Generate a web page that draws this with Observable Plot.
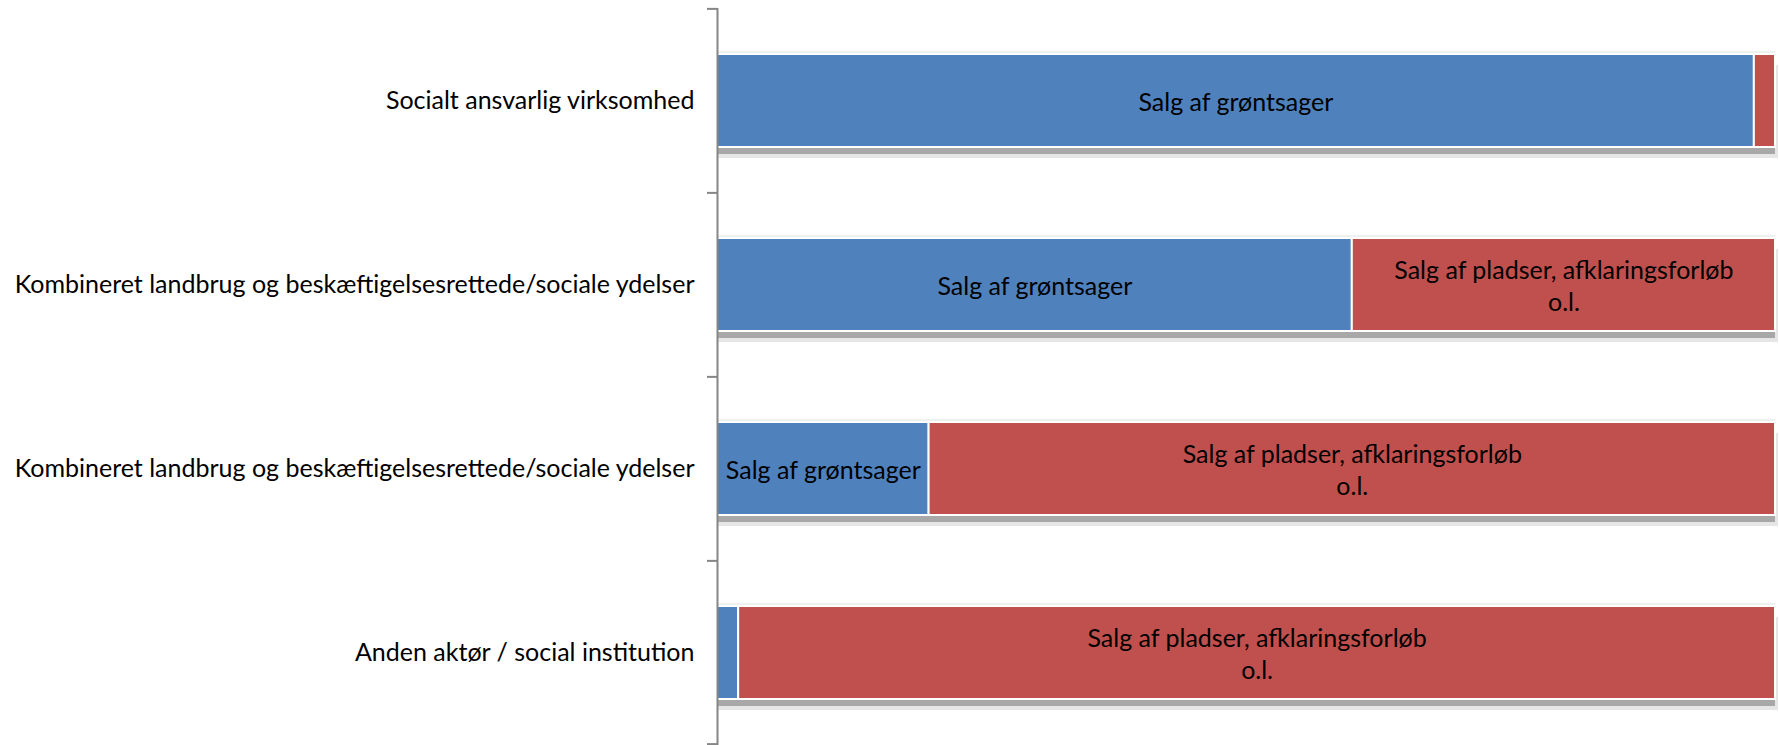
<!DOCTYPE html>
<html>
<head>
<meta charset="utf-8">
<script src="https://cdn.jsdelivr.net/npm/d3@7"></script>
<script src="https://cdn.jsdelivr.net/npm/@observablehq/plot@0.6"></script>
<style>
  html, body { margin: 0; padding: 0; background: #fff; }
  #chart svg { display: block; }
</style>
</head>
<body>
<div id="chart"></div>
<script>
const categories = [
  "Socialt ansvarlig virksomhed",
  "Kombineret landbrug og beskæftigelsesrettede/sociale ydelser",
  "Kombineret landbrug og beskæftigelsesrettede/sociale ydelser",
  "Anden aktør / social institution"
];
const seriesNames = ["Salg af grøntsager", "Salg af pladser, afklaringsforløb o.l."];
const seriesLabels = ["Salg af grøntsager", "Salg af pladser, afklaringsforløb\no.l."];
const seriesColors = ["#4F81BD", "#C0504D"];
const groentsager = [98, 60, 20, 2];
const pladser = [2, 40, 80, 98];

const keys = categories.map((c, i) => String(i));
const rows = [];
categories.forEach((c, i) => {
  rows.push({key: keys[i], series: seriesNames[0], label: seriesLabels[0], value: groentsager[i]});
  rows.push({key: keys[i], series: seriesNames[1], label: seriesLabels[1], value: pladser[i]});
});
const totals = categories.map((c, i) => ({key: keys[i], total: groentsager[i] + pladser[i]}));

const W = 1779, H = 745, mTop = 8, mBottom = 0;
const step = (H - mTop - mBottom) / categories.length;
const FONT = "Lato, 'Open Sans', sans-serif";
const FS = 25;

const chart = Plot.plot({
  width: W,
  height: H,
  marginLeft: 717,
  marginRight: 4,
  marginTop: mTop,
  marginBottom: mBottom,
  style: {fontFamily: FONT, fontSize: FS + "px", color: "#000", background: "#fff"},
  x: {domain: [0, 100], axis: null},
  y: {domain: keys, paddingInner: 0.494, paddingOuter: 0.247, axis: null},
  color: {domain: seriesNames, range: seriesColors},
  marks: [
    // shadow / bevel effect
    Plot.barX(totals, {x1: 0, x2: "total", y: "key", fill: "#f0f0f0", dy: -3}),
    Plot.barX(totals, {x1: 0, x2: "total", y: "key", fill: "#e6e6e6", dy: 11, insetRight: -3}),
    Plot.barX(totals, {x1: 0, x2: "total", y: "key", fill: "#a8a8a8", dy: 7}),
    // bars
    Plot.barX(rows, Plot.stackX({x: "value", y: "key", fill: "series", stroke: "#fff", strokeWidth: 2, order: null})),
    // labels in bars
    Plot.text(rows, Plot.stackX({
      x: "value", y: "key", z: "series", order: null,
      text: d => d.value >= 10 ? d.label : null,
      fill: "#000", fontSize: FS, lineHeight: 1.28
    })),
    // axis line
    Plot.ruleX([0], {stroke: "#868686", strokeWidth: 2}),
    // ticks at band boundaries
    Plot.ruleY(keys, {y: d => d, x1: 0, x2: 0, insetLeft: -10, dy: -step / 2, stroke: "#868686", strokeWidth: 2}),
    Plot.ruleY(keys.slice(-1), {y: d => d, x1: 0, x2: 0, insetLeft: -10, dy: step / 2 - 1, stroke: "#868686", strokeWidth: 2}),
    // category labels
    Plot.axisY(keys, {
      tickSize: 0, tickPadding: 23, label: null,
      tickFormat: k => categories[+k],
      fontSize: FS, fill: "#000"
    })
  ]
});
document.getElementById("chart").appendChild(chart);
</script>
</body>
</html>
